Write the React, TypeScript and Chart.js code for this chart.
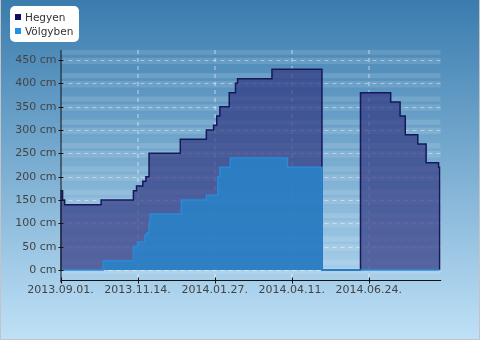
import React, { useEffect, useRef } from 'react';
import { Chart, registerables } from 'chart.js';

Chart.register(...registerables);

// ---- data (days counted from 2013.09.01.) ----
const seriesNames = ['Hegyen', 'Völgyben'];

const hegyenDays = [0, 0, 2, 4, 39, 70, 73, 79, 82, 85, 115, 140, 147, 150, 153, 162, 168, 170, 203, 251, 288, 317, 326, 331, 343, 351, 363, 364];
const hegyenCm = [0, 170, 150, 140, 150, 170, 180, 190, 200, 250, 280, 300, 310, 330, 350, 380, 400, 410, 430, 0, 380, 360, 330, 290, 270, 230, 220, 0];

const volgybenDays = [0, 41, 70, 74, 81, 83, 85, 86, 116, 140, 151, 153, 163, 218, 251, 364];
const volgybenCm = [0, 20, 50, 60, 75, 80, 100, 120, 150, 160, 200, 220, 240, 220, 0, 0];

const tickDays = [0, 74, 148, 222, 296];
const tickLabels = ['2013.09.01.', '2013.11.14.', '2014.01.27.', '2014.04.11.', '2014.06.24.'];
const yTicks = [0, 50, 100, 150, 200, 250, 300, 350, 400, 450];

const lineColors = ['#16185a', '#2a8ad8'];
const fillColors = ['rgba(45,50,125,0.68)', 'rgba(36,135,205,0.78)'];
const legendColors = ['#0e0e5e', '#2492e2'];

const FONT = 'DejaVu Sans';

const decor = {
  id: 'decor',
  beforeDraw(chart: any) {
    const { ctx, width, height, chartArea: a, scales } = chart;
    const y = scales.y;
    ctx.save();
    const g = ctx.createLinearGradient(0, 0, 0, height);
    g.addColorStop(0, '#3a7cae');
    g.addColorStop(1, '#bfe1f7');
    ctx.fillStyle = g;
    ctx.fillRect(0, 0, width, height);
    ctx.beginPath();
    ctx.rect(a.left, a.top, a.right - a.left, a.bottom - a.top);
    ctx.clip();
    ctx.fillStyle = 'rgba(255,255,255,0.12)';
    for (let v = -50; v <= 500; v += 50) {
      const bands = [[v - 9, v + 5], [v + 11, v + 22]];
      for (const [lo, hi] of bands) {
        const y1 = y.getPixelForValue(hi);
        const y2 = y.getPixelForValue(lo);
        ctx.fillRect(a.left, y1, a.right - a.left, y2 - y1);
      }
    }
    ctx.restore();
  },
  beforeDatasetsDraw(chart: any) {
    const { ctx, chartArea: a, scales } = chart;
    ctx.save();
    ctx.setLineDash([4, 4]);
    ctx.strokeStyle = 'rgba(255,255,255,0.45)';
    ctx.lineWidth = 1;
    for (const v of yTicks) {
      const py = Math.round(scales.y.getPixelForValue(v)) + 0.5;
      ctx.beginPath();
      ctx.moveTo(a.left, py);
      ctx.lineTo(a.right, py);
      ctx.stroke();
    }
    ctx.strokeStyle = 'rgba(255,255,255,0.3)';
    ctx.lineWidth = 2;
    for (const d of tickDays) {
      if (d === 0) continue;
      const px = Math.round(scales.x.getPixelForValue(d));
      ctx.beginPath();
      ctx.moveTo(px, a.top);
      ctx.lineTo(px, a.bottom);
      ctx.stroke();
    }
    ctx.restore();
  },
  afterDatasetsDraw(chart: any) {
    const { ctx, chartArea: a, scales } = chart;
    ctx.save();
    ctx.strokeStyle = '#111';
    ctx.lineWidth = 1;
    const ax = Math.round(a.left);
    const ay = Math.round(a.bottom) - 0.5;
    ctx.beginPath();
    ctx.moveTo(ax, a.top);
    ctx.lineTo(ax, ay + 2);
    ctx.moveTo(ax - 0.5, ay);
    ctx.lineTo(a.right + 0.5, ay);
    for (const v of yTicks) {
      const py = Math.round(scales.y.getPixelForValue(v)) + 0.5;
      ctx.moveTo(ax - 2.5, py);
      ctx.lineTo(ax + 2.5, py);
    }
    for (const d of tickDays) {
      const px = Math.round(scales.x.getPixelForValue(d)) + 0.5;
      ctx.moveTo(px, ay - 3);
      ctx.lineTo(px, ay + 3);
    }
    ctx.stroke();
    ctx.restore();
  },
  afterDraw(chart: any) {
    const { ctx, width, height } = chart;
    ctx.save();
    // legend box
    ctx.fillStyle = '#ffffff';
    ctx.beginPath();
    (ctx as any).roundRect(10, 6, 69, 36, 5);
    ctx.fill();
    ctx.font = `10.5px "${FONT}"`;
    ctx.textBaseline = 'alphabetic';
    ctx.textAlign = 'left';
    seriesNames.forEach((name, i) => {
      const top = 14 + i * 14;
      ctx.fillStyle = legendColors[i];
      ctx.fillRect(15, top, 6, 6);
      ctx.fillStyle = '#333';
      ctx.fillText(name, 25, top + 7);
    });
    // outer border
    ctx.strokeStyle = '#c4c4c4';
    ctx.lineWidth = 1;
    ctx.beginPath();
    ctx.moveTo(0.5, 0);
    ctx.lineTo(0.5, height - 0.5);
    ctx.lineTo(width - 0.5, height - 0.5);
    ctx.lineTo(width - 0.5, 0);
    ctx.stroke();
    ctx.restore();
  },
};

export default function App() {
  const ref = useRef<HTMLCanvasElement | null>(null);

  useEffect(() => {
    document.body.style.margin = '0';
    const canvas = ref.current;
    if (!canvas) return;
    const tickFont = { family: FONT, size: 11 };
    const chart = new Chart(canvas, {
      type: 'line',
      data: {
        datasets: [
          {
            label: seriesNames[0],
            data: hegyenDays.map((d, i) => ({ x: d, y: hegyenCm[i] })),
            stepped: 'before',
            fill: 'origin',
            borderColor: lineColors[0],
            backgroundColor: fillColors[0],
            borderWidth: 1.5,
            pointRadius: 0,
            order: 2,
          },
          {
            label: seriesNames[1],
            data: volgybenDays.map((d, i) => ({ x: d, y: volgybenCm[i] })),
            stepped: 'before',
            fill: 'origin',
            borderColor: lineColors[1],
            backgroundColor: fillColors[1],
            borderWidth: 1.5,
            pointRadius: 0,
            order: 1,
          },
        ],
      },
      options: {
        animation: false,
        responsive: false,
        maintainAspectRatio: false,
        layout: { padding: { left: 0, top: 50, right: 39.3, bottom: 0 } },
        plugins: {
          legend: { display: false },
          tooltip: { enabled: false },
        },
        scales: {
          x: {
            type: 'linear',
            min: 0,
            max: 365,
            grid: { display: false, drawTicks: false, tickLength: 0 },
            border: { display: false },
            afterBuildTicks: (s: any) => {
              s.ticks = tickDays.map((v) => ({ value: v }));
            },
            afterFit: (s: any) => {
              s.height = 59.5;
            },
            ticks: {
              autoSkip: false,
              maxRotation: 0,
              padding: 3,
              color: '#444',
              font: tickFont,
              callback: (v: any) => tickLabels[tickDays.indexOf(Number(v))] ?? '',
            },
          },
          y: {
            type: 'linear',
            min: -22.5,
            max: 471.4,
            grid: { display: false, drawTicks: false, tickLength: 0 },
            border: { display: false },
            afterBuildTicks: (s: any) => {
              s.ticks = yTicks.map((v) => ({ value: v }));
            },
            afterFit: (s: any) => {
              s.width = 60.5;
            },
            ticks: {
              padding: 4,
              color: '#444',
              font: tickFont,
              callback: (v: any) => `${v} cm`,
            },
          },
        },
      },
      plugins: [decor],
    } as any);
    return () => chart.destroy();
  }, []);

  return (
    <div style={{ width: 480, height: 340 }}>
      <canvas ref={ref} width={480} height={340} style={{ display: 'block' }} />
    </div>
  );
}
